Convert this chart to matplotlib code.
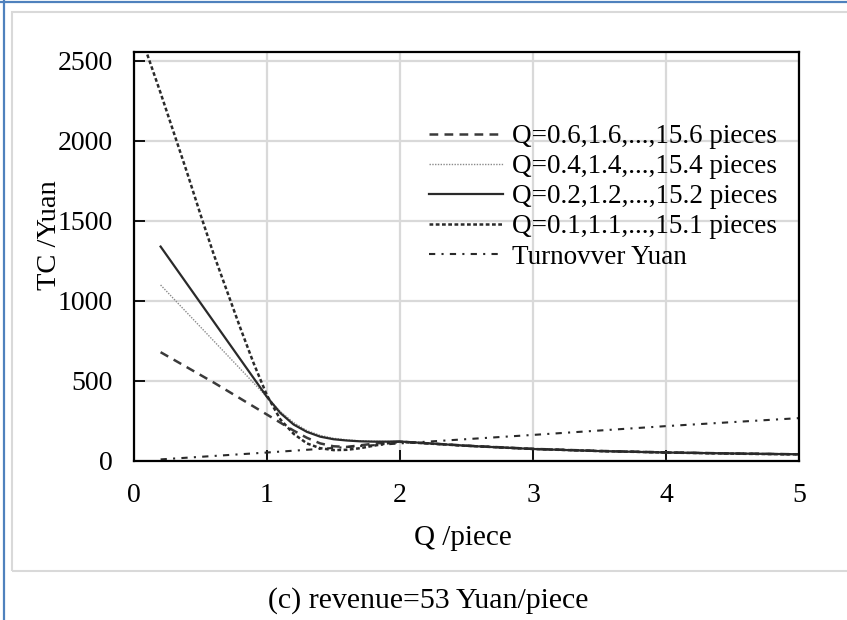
import matplotlib.pyplot as plt
from matplotlib.patches import Rectangle
from matplotlib.lines import Line2D

plt.rcParams['font.family'] = ['Liberation Serif', 'DejaVu Serif']

# Q=0.6,1.6,...
q_a = [0.2, 0.4, 0.6, 0.8, 1.0, 1.1, 1.2, 1.3, 1.4, 1.5, 1.6, 1.7, 1.8, 1.9, 2.0, 2.5, 3.0, 3.5, 4.0, 4.5, 5.0]
tc_a = [680, 585, 490, 390, 290, 240, 190, 145, 110, 92, 88, 98, 108, 116, 121, 96, 76, 63, 54, 47, 42]
# Q=0.4,1.4,...
q_b = [0.2, 0.4, 0.6, 0.8, 1.0, 1.1, 1.2, 1.3, 1.4, 1.5, 1.6, 1.7, 1.8, 1.9, 2.0, 2.5, 3.0, 3.5, 4.0, 4.5, 5.0]
tc_b = [1100, 925, 750, 575, 400, 310, 240, 190, 160, 142, 132, 126, 123, 122, 122, 97, 77, 64, 55, 48, 43]
# Q=0.2,1.2,...
q_c = [0.2, 0.4, 0.6, 0.8, 1.0, 1.1, 1.2, 1.3, 1.4, 1.5, 1.6, 1.7, 1.8, 1.9, 2.0, 2.5, 3.0, 3.5, 4.0, 4.5, 5.0]
tc_c = [1340, 1105, 870, 635, 400, 300, 228, 182, 152, 136, 128, 123, 121, 121, 122, 95, 75, 62, 53, 47, 42]
# Q=0.1,1.1,...
q_d = [0.1, 0.2, 0.3, 0.4, 0.5, 0.6, 0.7, 0.8, 0.9, 1.0, 1.1, 1.2, 1.3, 1.4, 1.5, 1.6, 1.7, 1.8, 1.9, 2.0,
       2.5, 3.0, 3.5, 4.0, 4.5, 5.0]
tc_d = [2540, 2300, 2050, 1800, 1540, 1290, 1060, 830, 610, 410, 260, 170, 110, 80, 68, 70, 80, 95, 110, 120,
        95, 75, 62, 53, 46, 41]
# turnover
q_t = [0.2, 1.0, 2.0, 3.0, 4.0, 5.0]
turnover = [10, 53, 110, 163, 218, 268]

labels = ['Q=0.6,1.6,...,15.6 pieces', 'Q=0.4,1.4,...,15.4 pieces',
          'Q=0.2,1.2,...,15.2 pieces', 'Q=0.1,1.1,...,15.1 pieces', 'Turnovver Yuan']

fig = plt.figure(figsize=(8.47, 6.2), dpi=100)
W, H = 847, 620

# light gray inner frame and blue outer border
fig.patches.append(Rectangle((12 / W, 1 - 571 / H), 900 / W, 559 / H, transform=fig.transFigure,
                             fill=False, edgecolor='#d9d9d9', lw=1.5))
fig.add_artist(Line2D([0, 1], [1 - 1.5 / H, 1 - 1.5 / H], transform=fig.transFigure, color='#4f81bd', lw=1.6))
fig.add_artist(Line2D([4 / W, 4 / W], [0, 1], transform=fig.transFigure, color='#4f81bd', lw=1.6))

ax = fig.add_axes([134 / W, 1 - 461 / H, (799 - 134) / W, (461 - 52) / H])

ax.plot(q_a, tc_a, color='#3a3a3a', lw=1.8, dashes=(3.5, 2.5), label=labels[0])
ax.plot(q_b, tc_b, color='#8a8a8a', lw=1.0, dashes=(1, 1), label=labels[1])
ax.plot(q_c, tc_c, color='#2a2a2a', lw=1.6, label=labels[2])
ax.plot(q_d, tc_d, color='#2a2a2a', lw=1.8, dashes=(1.5, 1), label=labels[3])
ax.plot(q_t, turnover, color='#2a2a2a', lw=1.5, dashes=(3, 3, 1, 3), label=labels[4])

ax.set_xlim(0, 5)
ax.set_ylim(0, 2556)
ax.set_xticks([0, 1, 2, 3, 4, 5])
ax.set_yticks([0, 500, 1000, 1500, 2000, 2500])
ax.grid(True, color='#d9d9d9', lw=1.6)
ax.set_axisbelow(True)
ax.tick_params(direction='in', length=8, width=1.3, labelsize=20, top=False, right=False)
ax.tick_params(axis='y', pad=15)
ax.tick_params(axis='x', pad=16)
for s in ax.spines.values():
    s.set_linewidth(1.6)

fig.text(49 / W, 1 - 235 / H, 'TC /Yuan', rotation=90, ha='center', va='center', fontsize=20.5)
fig.text(463 / W, 1 - 538 / H, 'Q /piece', ha='center', va='center', fontsize=21)
fig.text(428 / W, 1 - 601 / H, '(c) revenue=53 Yuan/piece', ha='center', va='center', fontsize=21.5)

ax.legend(loc='upper left', bbox_to_anchor=(429 / W, 1 - 124 / H), bbox_transform=fig.transFigure,
          frameon=False, fontsize=19.5, handlelength=2.75, handletextpad=0.3, labelspacing=0.19,
          borderpad=0, borderaxespad=0)

fig.savefig('out.png', dpi=100)
